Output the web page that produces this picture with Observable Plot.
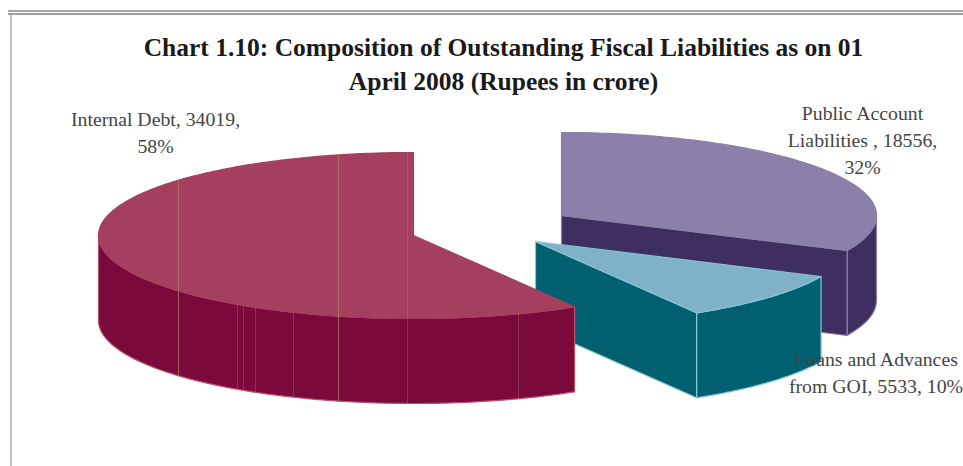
<!DOCTYPE html>
<html>
<head>
<meta charset="utf-8">
<script src="https://cdn.jsdelivr.net/npm/d3@7"></script>
<script src="https://cdn.jsdelivr.net/npm/@observablehq/plot@0.6"></script>
<style>
  html, body { margin: 0; background: #fff; overflow: hidden; }
  #chart { width: 963px; height: 466px; }
  svg { display: block; }
</style>
</head>
<body>
<div id="chart"></div>
<script>
// Outstanding fiscal liabilities, Rupees in crore
const names = ["Public Account Liabilities", "Loans and Advances from GOI", "Internal Debt"];
const amounts = [18556, 5533, 34019];
const shares = ["32%", "10%", "58%"];

const titleLines = [
  "Chart 1.10: Composition of Outstanding Fiscal Liabilities as on 01",
  "April 2008 (Rupees in crore)"
];
const labelLines = [
  "Public Account\nLiabilities , " + amounts[0] + ",\n" + shares[0],
  "Loans and Advances\nfrom GOI, " + amounts[1] + ", " + shares[1],
  "Internal Debt, " + amounts[2] + ",\n" + shares[2]
];

// Page-space layout of the exploded 3D pie
const W = 963, H = 466;
const RX = 315, RY = 83, DEPTH = 85;
const centres = [[561, 215], [535, 241], [413, 235]];
const palette = [
  {top: "#8b80aa", side: "#3f2f60", edge: "#8b80aa"},
  {top: "#7fb1c8", side: "#00606f", edge: "#86c4d6"},
  {top: "#a43f60", side: "#7a0a3b", edge: "#c0506f"}
];
const labelPos = [
  {x: 862, y: 138},
  {x: 875.5, y: 370.5},
  {x: 155, y: 130.5}
];
// Faint seams running down the large slice
const seamsStrong = [178, 338];
const seamsFaint = [237, 243, 255, 293, 518];
const seamFull = 407;

// Clockwise from twelve o'clock, in data order
const arcs = d3.pie().sort(null)(amounts);
const rad = Math.PI;

const point = (c, a, drop = 0) => ({
  x: c[0] + RX * Math.sin(a),
  y: c[1] - RY * Math.cos(a) + drop
});
const sweep = (c, a0, a1, drop = 0) => {
  const n = Math.max(2, Math.ceil(Math.abs(a1 - a0) * 60));
  return d3.range(n + 1).map(i => point(c, a0 + (a1 - a0) * i / n, drop));
};

const marks = [];
arcs.forEach((arc, i) => {
  const c = centres[i], col = palette[i];
  const a0 = arc.startAngle, a1 = arc.endAngle;
  const style = {x: "x", y: "y", fill: col.side, stroke: col.edge, strokeWidth: 1.2, curve: "linear-closed"};

  // Outer wall: only the part facing the viewer
  const v0 = Math.max(a0, rad / 2), v1 = Math.min(a1, 3 * rad / 2);
  if (v1 > v0) {
    marks.push(Plot.line([...sweep(c, v0, v1), ...sweep(c, v1, v0, DEPTH)], style));
  }
  // Cut wall along the slice's closing radius
  if (a1 < rad) {
    const hub = {x: c[0], y: c[1]}, rim = point(c, a1);
    marks.push(Plot.line([hub, rim, {x: rim.x, y: rim.y + DEPTH}, {x: hub.x, y: hub.y + DEPTH}], style));
  }
  // Top face
  marks.push(Plot.line([{x: c[0], y: c[1]}, ...sweep(c, a0, a1)], {
    ...style, fill: col.top, stroke: i === 1 ? col.edge : col.top
  }));
});

// Seam lines follow the large slice's top and bottom rims
const big = centres[2];
const rimY = x => big[1] + RY * Math.sqrt(1 - ((x - big[0]) / RX) ** 2);
const topY = x => big[1] - RY * Math.sqrt(1 - ((x - big[0]) / RX) ** 2);
marks.push(
  Plot.ruleX(seamsStrong, {
    x: d => d,
    y1: topY,
    y2: d => rimY(d) + DEPTH,
    stroke: "#b5825f",
    strokeOpacity: 0.7,
    strokeWidth: 1
  }),
  Plot.ruleX([seamFull], {
    x: d => d,
    y1: topY,
    y2: d => rimY(d) + DEPTH,
    stroke: "#b5825f",
    strokeOpacity: 0.35,
    strokeWidth: 1
  }),
  Plot.ruleX(seamsFaint, {
    x: d => d,
    y1: rimY,
    y2: d => rimY(d) + DEPTH,
    stroke: "#b5825f",
    strokeOpacity: 0.35,
    strokeWidth: 1
  })
);

// Page frame: double rule along the top, single rule down the left
marks.push(
  Plot.ruleY([10.5], {x1: 8, x2: W, stroke: "#8a8a8a", strokeWidth: 1.5}),
  Plot.ruleY([13.5], {x1: 8, x2: W, stroke: "#7c7c7c", strokeWidth: 1.5}),
  Plot.ruleX([10.5], {y1: 14, y2: H, stroke: "#a9a9a9", strokeWidth: 1.5})
);

// Title and data labels
marks.push(
  Plot.text(titleLines, {
    x: () => 503,
    y: (d, i) => 47 + i * 34,
    text: d => d,
    fontFamily: "Liberation Serif",
    fontWeight: "bold",
    fontSize: 25.5,
    fill: "#1a1a1a",
    textAnchor: "middle"
  }),
  Plot.text(labelLines, {
    x: (d, i) => labelPos[i].x,
    y: (d, i) => labelPos[i].y,
    text: d => d,
    lineAnchor: "middle",
    lineHeight: 1.35,
    fontFamily: "Liberation Serif",
    fontSize: 19.8,
    fill: "#454545",
    textAnchor: "middle"
  })
);

const plot = Plot.plot({
  width: W,
  height: H,
  margin: 0,
  style: {background: "#fff"},
  x: {domain: [0, W], range: [0, W], axis: null},
  y: {domain: [0, H], range: [0, H], axis: null},
  marks
});
document.getElementById("chart").append(plot);
</script>
</body>
</html>
